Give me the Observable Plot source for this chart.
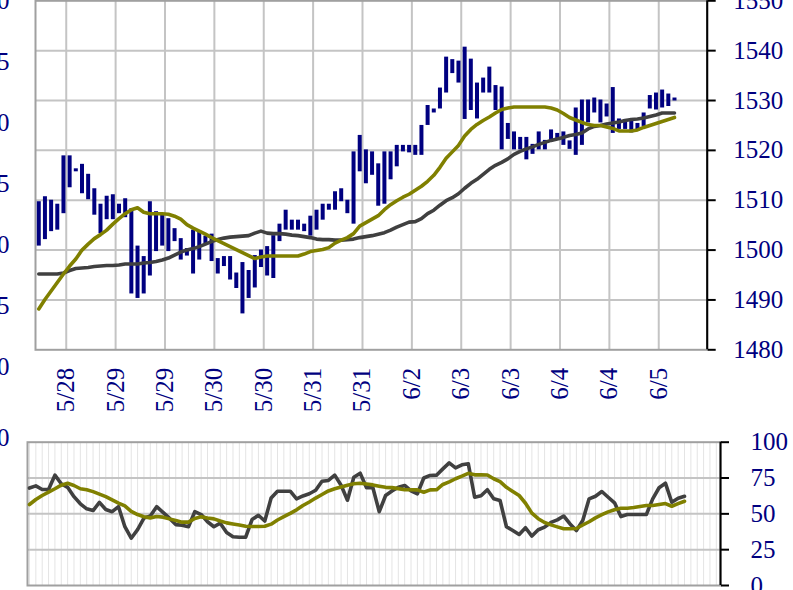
<!DOCTYPE html>
<html><head><meta charset="utf-8">
<script src="https://cdn.jsdelivr.net/npm/d3@7"></script>
<script src="https://cdn.jsdelivr.net/npm/@observablehq/plot@0.6"></script>
<style>
html,body{margin:0;padding:0;background:#fff;overflow:hidden;width:793px;height:590px;}
#wrap{position:relative;width:793px;height:590px;overflow:hidden;background:#fff;}
</style></head><body><div id="wrap"></div>
<script>
// ---------- data ----------
const dateLabels = ["5/28","5/29","5/29","5/30","5/30","5/31","5/31","6/2","6/3","6/3","6/4","6/4","6/5"];
const priceTicks = [1480, 1490, 1500, 1510, 1520, 1530, 1540, 1550];
const oscTicks = [0, 25, 50, 75, 100];
const neighborTicks = [0, 5, 10, 15, 20, 25, 30];   // right axis of the panel cut off on the left
const neighborOscTicks = [100];

const barHigh = [1509.7,1510.7,1510,1509.2,1518.9,1518.9,1516.3,1517.2,1515.2,1512.3,
 1509.2,1510.8,1511.1,1509.2,1510.3,1508.3,1500.8,1498.7,1509.7,1507.7,
 1507,1506.3,1504.3,1502.3,1500.3,1504,1503.8,1502.8,1503.2,1498.3,
 1498.7,1498.7,1495.4,1497.5,1495.9,1498.9,1500,1500.7,1502.9,1505.2,
 1508,1506,1506,1505.2,1506.8,1508,1509.2,1509.2,1511.7,1512.3,
 1510,1519.7,1523,1520.1,1519.7,1517.3,1519.7,1519.7,1521,1521,
 1521,1521,1525,1529,1528.3,1532.5,1538.7,1538.2,1537.9,1540.7,
 1538.3,1533.5,1534.5,1536.7,1533,1532.7,1525.4,1523.7,1522.6,1522.6,
 1521.2,1523.7,1522,1524.1,1523.4,1523.7,1521.9,1528.5,1530.1,1530.1,
 1530.5,1530.1,1529.3,1532.6,1526.3,1526.2,1526.4,1525.4,1527.5,1531,
 1531.5,1532.1,1531.3,1530.5];
const barLow = [1500.8,1502.1,1503.7,1504,1507.3,1512.5,1515.7,1511.3,1510.1,1507,
 1503.3,1506.1,1506.1,1507.3,1506.5,1491.2,1490.3,1491.2,1494.8,1499.7,
 1500.8,1499.7,1501.7,1498,1498.8,1495.2,1498,1501.3,1497.7,1495.2,
 1496.7,1494,1492.3,1487.2,1490.3,1492.4,1496.5,1494.8,1494.3,1501.7,
 1504,1504,1504,1503.7,1502.8,1504,1506,1508,1508,1509.7,
 1507.3,1505.2,1515.7,1513.3,1515,1508.8,1509.2,1514.1,1516.7,1519.7,
 1519.5,1519,1519,1525,1527.5,1528.3,1531.5,1535.4,1533.5,1526.2,
 1528,1526.3,1531.5,1531.5,1528,1520.1,1522.2,1520.1,1520.1,1518.1,
 1519.2,1520.1,1520.1,1521.6,1522.1,1521,1520.2,1519,1521,1525.5,
 1527.5,1525.5,1526.7,1523.4,1524.2,1524.2,1523.5,1523.8,1524.8,1528.3,
 1528.1,1528.5,1528.8,1529.9];
const maSlow = [1495.2,1495.2,1495.2,1495.2,1495.4,1495.9,1496.3,1496.4,1496.5,1496.7,
 1496.8,1496.9,1496.9,1497,1497.2,1497.2,1497.2,1497.4,1497.5,1497.7,
 1498,1498.4,1499,1499.6,1500,1500.3,1500.7,1501.2,1501.7,1502.1,
 1502.4,1502.6,1502.7,1502.8,1502.9,1503.4,1503.8,1503.4,1503.3,1503.3,
 1503.2,1503,1502.9,1502.7,1502.5,1502.2,1502.1,1502.1,1502,1502,
 1502.1,1502.2,1502.5,1502.7,1502.9,1503.2,1503.5,1504,1504.6,1505.1,
 1505.6,1505.7,1506.3,1507.3,1508,1509,1509.9,1510.5,1511.3,1512.4,
 1513.4,1514.2,1515.2,1516.2,1517,1517.6,1518.3,1519.2,1519.8,1520.3,
 1520.7,1521.2,1521.6,1522,1522.3,1522.6,1523,1523.2,1523.5,1524.3,
 1524.8,1525,1525.3,1525.5,1525.7,1526,1526.2,1526.3,1526.5,1526.8,
 1527.1,1527.5,1527.5,1527.5];
const maFast = [1488.2,1490.1,1491.8,1493.5,1495.2,1496.8,1498.2,1500,1501.2,1502.3,
 1503.1,1504,1505.2,1506.3,1507.3,1508.1,1508.5,1507.6,1507.3,1507.3,
 1507.3,1507.2,1506.8,1506.2,1505.1,1504.4,1503.8,1503.2,1502.5,1501.9,
 1501.3,1500.7,1500.1,1499.5,1498.9,1498.3,1498.6,1498.8,1498.8,1498.8,
 1498.8,1498.8,1498.8,1499.2,1499.7,1499.9,1500.1,1500.5,1501.4,1502,
 1502.5,1503.3,1504.8,1505.5,1506.2,1506.9,1508.1,1509.1,1509.9,1510.6,
 1511.2,1512,1512.8,1513.8,1515,1516.6,1518.4,1519.7,1521,1522.9,
 1524.2,1525.2,1526,1526.7,1527.5,1528.2,1528.5,1528.7,1528.7,1528.7,
 1528.7,1528.7,1528.7,1528.5,1528.1,1527.4,1526.6,1526.1,1525.6,1525.2,
 1525,1525,1524.7,1524.4,1523.9,1523.9,1523.9,1524.1,1524.6,1525,
 1525.4,1525.8,1526.2,1526.6];
const oscK = [68,69.5,67,67,77,71,68.5,62,57,53.5,
 52.3,58,53,51.5,55,41,33,39,47,48.5,
 55,51,47,42.5,42,41,51.5,49.5,44.5,41,
 43.5,37,34,33.7,33.7,46,49,45,61,65.8,
 65.8,65.8,60.5,62.5,64,66.5,72.8,73.3,77,70,
 59.5,75.6,78.4,68.2,68.2,51.5,62.8,66,68.6,69.8,
 66,64,75,76.8,77,81.4,85.6,82.1,84.2,85,
 61.6,62.6,66.8,60.5,59.3,41,38.4,35.6,40.3,34.5,
 38.9,40.7,44,45.8,48.5,43,38.4,45.4,60.5,62.3,
 65.6,61.6,57.7,48.1,49.5,49.5,49.5,49.5,60.5,68.2,
 71.4,58.1,60.9,62.3];
const oscD = [56.5,60,62.8,65.2,67.5,70,71.3,69.8,67.5,66.8,
 65.5,63.8,62,59.8,57.5,55.5,51.7,49.5,48,47.2,
 48.1,47.7,46.5,45.3,44.2,44.2,46.8,47.9,47.1,46.5,
 45,43.7,42.9,42.2,41.3,41.2,41.2,41.3,42.8,45.7,
 48,50.3,52.8,55.8,58.3,61,63.5,66,67.5,68.7,
 70,71,71.4,70.8,70.2,69.3,68.5,68.3,67.6,66.8,
 66.8,66.7,65.1,66.7,66.8,70.5,72.3,74.5,76.3,78.3,
 77.2,77.2,77.1,74.5,72.5,68.5,65.6,62.8,57.4,50.5,
 46.6,44,42.3,40.9,39.6,39.6,39.8,42.2,44.5,47.2,
 49.4,51.4,52.9,53.9,53.9,54.4,55.1,55.8,55.8,56.5,
 57.2,55.3,57.1,58.8];

// ---------- build ----------
const rows = barHigh.map((h, i) => ({i, high: h, low: barLow[i], slow: maSlow[i], fast: maFast[i], k: oscK[i], d: oscD[i]}));
const barsPerLabel = 8, firstBoundary = 4.45;            // a date label every 8 bars
const tickAt = dateLabels.map((_, j) => firstBoundary + barsPerLabel * j);
const labelAt = new Map(tickAt.map((t, j) => [t, dateLabels[j]]));
const slots = d3.range(0, 109);                            // light per-bar guides in the lower pane

const NAVY = "#000080", GRID = "#c4c4c4", FRAME = "#a0a0a0";
const FONT = "'Liberation Serif','Times New Roman',serif";
const xUpper = [-0.53, 108.3], xLower = [-0.31, 108.66];
const wrap = document.getElementById("wrap");
const baseStyle = (left, top) => ({position: "absolute", left: left + "px", top: top + "px",
  background: "transparent", maxWidth: "none", overflow: "visible", fontFamily: FONT, fontSize: "25px"});

const upper = Plot.plot({
  width: 853, height: 450, marginLeft: 95, marginRight: 86.3, marginTop: 20.3, marginBottom: 80.7,
  style: baseStyle(-60, -20),
  x: {domain: xUpper}, y: {domain: [1480, 1550]},
  marks: [
    Plot.ruleY(priceTicks.slice(1, -1), {stroke: GRID, strokeWidth: 2}),
    Plot.ruleX(tickAt, {stroke: GRID, strokeWidth: 2}),
    Plot.frame({stroke: FRAME, strokeWidth: 2}),
    Plot.ruleX(rows, {x: "i", y1: "low", y2: "high", stroke: NAVY, strokeWidth: 4}),
    Plot.line(rows, {x: "i", y: "slow", stroke: "#404040", strokeWidth: 3.6}),
    Plot.line(rows, {x: "i", y: "fast", stroke: "#808000", strokeWidth: 3.6}),
    Plot.ruleX([xUpper[1]], {stroke: "#000", strokeWidth: 2}),
    Plot.axisY({anchor: "right", ticks: priceTicks, tickFormat: "d", tickSize: 8, tickPadding: 18,
      stroke: "#000", strokeWidth: 2, fill: NAVY, label: null, fontFamily: FONT, fontSize: 25}),
    Plot.axisX({anchor: "bottom", ticks: tickAt, tickFormat: t => labelAt.get(t), tickRotate: -90,
      tickSize: 0, tickPadding: 18, fill: NAVY, label: null, fontFamily: FONT, fontSize: 25})
  ]
});
wrap.appendChild(upper);

const lower = Plot.plot({
  width: 853, height: 190, marginLeft: 87, marginRight: 73, marginTop: 21.7, marginBottom: 25,
  style: baseStyle(-60, 420),
  x: {domain: xLower}, y: {domain: [0, 100]},
  marks: [
    Plot.ruleX(slots, {stroke: "#e4e4e4", strokeWidth: 1}),
    Plot.ruleY(oscTicks.slice(1, -1), {stroke: GRID, strokeWidth: 2}),
    Plot.frame({stroke: FRAME, strokeWidth: 2}),
    Plot.line(rows, {x: "i", y: "k", stroke: "#404040", strokeWidth: 3.6}),
    Plot.line(rows, {x: "i", y: "d", stroke: "#808000", strokeWidth: 3.6}),
    Plot.ruleX([xLower[1]], {stroke: "#000", strokeWidth: 2}),
    Plot.axisY({anchor: "right", ticks: oscTicks, tickFormat: "d", tickSize: 8, tickPadding: 22,
      stroke: "#000", strokeWidth: 2, fill: NAVY, label: null, fontFamily: FONT, fontSize: 25}),
    Plot.axisX({ticks: [], label: null})
  ]
});
wrap.appendChild(lower);

// tick labels of the neighbouring panels, cut off by the left edge
const nb1 = Plot.plot({
  width: 100, height: 450, marginLeft: 69, marginRight: 1, marginTop: 20.8, marginBottom: 63.8,
  style: baseStyle(-60, -20),
  y: {domain: [0, 30]},
  marks: [Plot.axisY({anchor: "left", ticks: neighborTicks, tickFormat: "d", tickSize: 0, tickPadding: 0,
    fill: NAVY, label: null, fontFamily: FONT, fontSize: 25})]
});
wrap.appendChild(nb1);
const nb2 = Plot.plot({
  width: 100, height: 190, marginLeft: 69, marginRight: 1, marginTop: 17, marginBottom: 25,
  style: baseStyle(-60, 420),
  y: {domain: [0, 100]},
  marks: [Plot.axisY({anchor: "left", ticks: neighborOscTicks, tickFormat: "d", tickSize: 0, tickPadding: 0,
    fill: NAVY, label: null, fontFamily: FONT, fontSize: 25})]
});
wrap.appendChild(nb2);
</script></body></html>
